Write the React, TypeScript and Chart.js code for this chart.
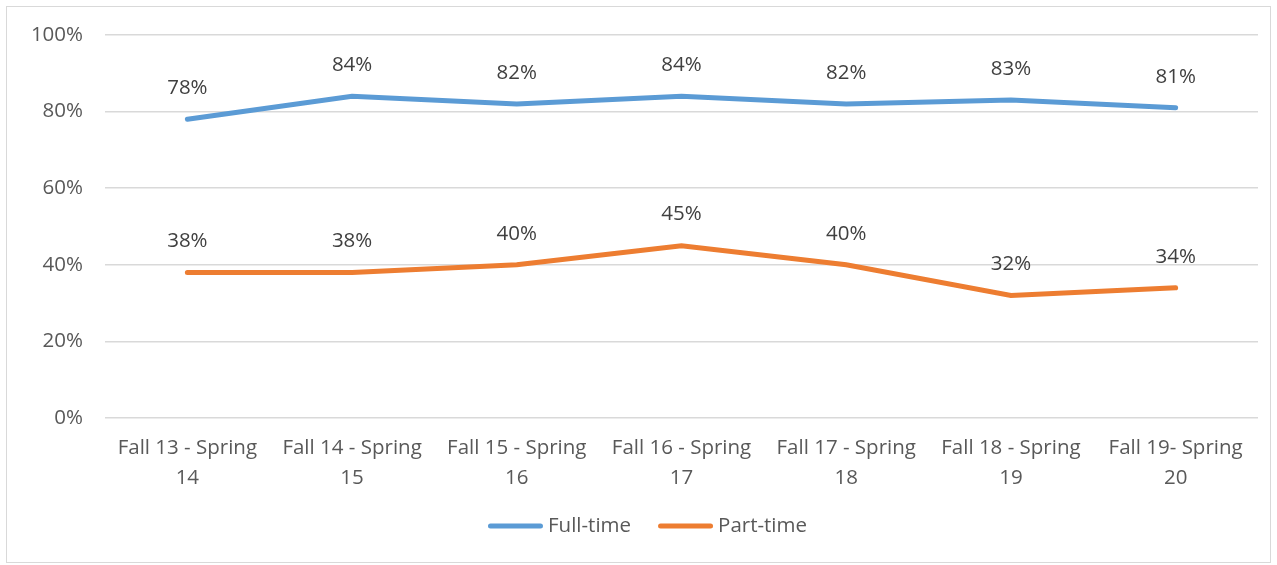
import React, { useEffect, useRef } from "react";
import { Chart, registerables } from "chart.js";

Chart.register(...registerables);

const categories: string[][] = [
  ["Fall 13 - Spring", "14"],
  ["Fall 14 - Spring", "15"],
  ["Fall 15 - Spring", "16"],
  ["Fall 16 - Spring", "17"],
  ["Fall 17 - Spring", "18"],
  ["Fall 18 - Spring", "19"],
  ["Fall 19- Spring", "20"],
];
const fullTime: number[] = [78, 84, 82, 84, 82, 83, 81];
const partTime: number[] = [38, 38, 40, 45, 40, 32, 34];
const yTicks: number[] = [0, 20, 40, 60, 80, 100];
const seriesNames: string[] = ["Full-time", "Part-time"];
const seriesColors: string[] = ["#5B9BD5", "#ED7D31"];

const FONT = "'Open Sans', Lato, sans-serif";
const FS = 20.5;

const dataLabelPlugin = {
  id: "dataLabels",
  afterDatasetsDraw(chart: any) {
    const ctx = chart.ctx;
    ctx.save();
    ctx.font = `${FS}px ${FONT}`;
    ctx.fillStyle = "#404040";
    ctx.textAlign = "center";
    ctx.textBaseline = "middle";
    chart.data.datasets.forEach((ds: any, di: number) => {
      const meta = chart.getDatasetMeta(di);
      meta.data.forEach((pt: any, i: number) => {
        ctx.fillText(`${ds.data[i]}%`, pt.x, pt.y - 31);
      });
    });
    ctx.restore();
  },
};

const legendPlugin = {
  id: "customLegend",
  afterDraw(chart: any) {
    const ctx = chart.ctx;
    ctx.save();
    ctx.font = `${FS}px ${FONT}`;
    const lineLen = 55;
    const gap = 5;
    const itemGap = 27;
    const items = chart.data.datasets.map((ds: any) => ({
      label: ds.label,
      color: ds.borderColor,
      w: ctx.measureText(ds.label).width,
    }));
    const total =
      items.reduce((a: number, it: any) => a + lineLen + gap + it.w, 0) +
      itemGap * (items.length - 1);
    let x = chart.width / 2 + 9 - total / 2;
    const y = chart.height - 36;
    items.forEach((it: any) => {
      ctx.strokeStyle = it.color;
      ctx.lineWidth = 5;
      ctx.lineCap = "round";
      ctx.beginPath();
      ctx.moveTo(x + 2.5, y);
      ctx.lineTo(x + lineLen - 2.5, y);
      ctx.stroke();
      x += lineLen + gap;
      ctx.fillStyle = "#595959";
      ctx.textAlign = "left";
      ctx.textBaseline = "middle";
      ctx.fillText(it.label, x, y);
      x += it.w + itemGap;
    });
    ctx.restore();
  },
};

export default function App() {
  const ref = useRef<HTMLCanvasElement | null>(null);
  useEffect(() => {
    if (!ref.current) return;
    const chart = new Chart(ref.current, {
      type: "line",
      data: {
        labels: categories,
        datasets: [
          {
            label: seriesNames[0],
            data: fullTime,
            borderColor: seriesColors[0],
            backgroundColor: seriesColors[0],
            borderWidth: 5,
            borderCapStyle: "round",
            pointRadius: 0,
            tension: 0,
          },
          {
            label: seriesNames[1],
            data: partTime,
            borderColor: seriesColors[1],
            backgroundColor: seriesColors[1],
            borderWidth: 5,
            borderCapStyle: "round",
            pointRadius: 0,
            tension: 0,
          },
        ],
      },
      options: {
        animation: false,
        responsive: true,
        maintainAspectRatio: false,
        layout: { padding: { top: 28, right: 12, left: 0, bottom: 68 } },
        plugins: {
          tooltip: { enabled: false },
          legend: { display: false },
        },
        scales: {
          x: {
            offset: true,
            grid: { display: false, drawTicks: false },
            border: { display: false },
            ticks: {
              color: "#595959",
              font: { family: FONT, size: FS, lineHeight: 1.42 },
              padding: 16,
              maxRotation: 0,
              autoSkip: false,
            },
            afterFit: (s: any) => {
              s.height = 76;
            },
          },
          y: {
            min: 0,
            max: 100,
            grid: { color: "#d9d9d9", lineWidth: 1.5, drawTicks: false },
            border: { display: false },
            ticks: {
              stepSize: 20,
              color: "#595959",
              font: { family: FONT, size: FS },
              padding: 22,
              callback: (v: any) => (yTicks.includes(v) ? `${v}%` : ""),
            },
            afterFit: (s: any) => {
              s.width = 98;
              s.paddingTop = 0;
              s.paddingBottom = 0;
            },
          },
        },
      },
      plugins: [dataLabelPlugin, legendPlugin],
    });
    return () => chart.destroy();
  }, []);
  return (
    <div
      style={{
        position: "absolute",
        left: 6,
        top: 6,
        width: 1265,
        height: 557,
        border: "1px solid #d9d9d9",
        boxSizing: "border-box",
        background: "#fff",
      }}
    >
      <canvas ref={ref} />
    </div>
  );
}
